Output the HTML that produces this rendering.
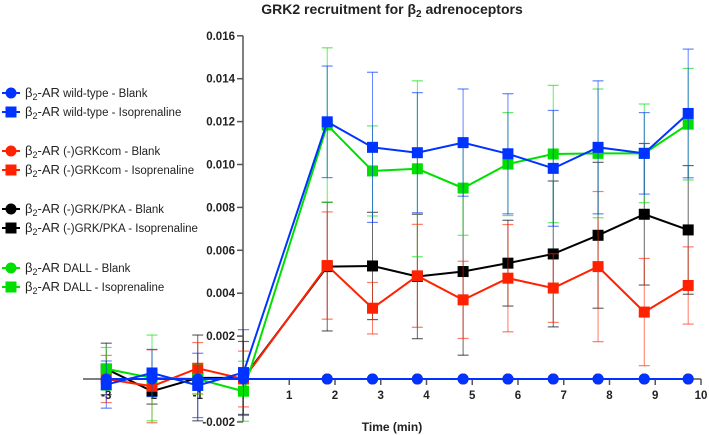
<!DOCTYPE html>
<html><head><meta charset="utf-8"><style>
body{margin:0;background:#fff;width:709px;height:435px;overflow:hidden}
svg{display:block;font-family:"Liberation Sans",sans-serif}
</style></head><body>
<svg id="chart" width="709" height="435"></svg>
<script>
const times=[-3,-2,-1,0,1.83,2.82,3.8,4.8,5.78,6.77,7.75,8.76,9.72];
const blueIso=[-0.00026,0.00028,-0.0003,0.0003,0.01199,0.0108,0.01055,0.01102,0.0105,0.00982,0.0108,0.01052,0.01238];
const blueErr=[0.0011,0.0011,0.0015,0.002,0.0026,0.0035,0.0028,0.0025,0.0028,0.0027,0.0031,0.0019,0.003];
const greenIso=[0.00047,0.00005,0,-0.00057,0.01184,0.0097,0.0098,0.0089,0.01002,0.01049,0.01052,0.01052,0.01188];
const greenErr=[0.001,0.002,0.0007,0.0014,0.0036,0.0021,0.0041,0.0022,0.0024,0.0032,0.003,0.0023,0.0026];
const blackIso=[0.00047,-0.00057,0.00005,0.00005,0.00524,0.00527,0.00478,0.00501,0.0054,0.00583,0.0067,0.00768,0.00695];
const blackErr=[0.0012,0.0006,0.002,0.0017,0.003,0.0025,0.0029,0.0039,0.002,0.0034,0.0034,0.0033,0.003];
const redIso=[0,-0.00034,0.0005,0,0.00529,0.0033,0.00481,0.00369,0.0047,0.00424,0.00524,0.00312,0.00436];
const redErr=[0.0011,0.0017,0.0012,0.0013,0.0025,0.0012,0.0024,0.0018,0.0025,0.0016,0.0035,0.0025,0.0018];
const blankVals=[0,0,0,0,0,0,0,0,0,0,0,0,0];
const yTicks=[0.016,0.014,0.012,0.010,0.008,0.006,0.004,0.002,-0.002];
const yTickLabels=["0.016","0.014","0.012","0.010","0.008","0.006","0.004","0.002","-0.002"];
const xTicks=[-3,-2,-1,1,2,3,4,5,6,7,8,9,10];
const xTickLabels=["-3","-2","-1","1","2","3","4","5","6","7","8","9","10"];

const NS="http://www.w3.org/2000/svg";
const svg=document.getElementById('chart');
const X=t=>243.5+t*45.75;
const Y=v=>379-v*21450;
function mk(tag,attrs,parent){const e=document.createElementNS(NS,tag);for(const k in attrs)e.setAttribute(k,attrs[k]);(parent||svg).appendChild(e);return e;}

let t=mk('text',{x:392,y:14,'text-anchor':'middle','font-size':14,'font-weight':'bold',fill:'#222'});


t.innerHTML='GRK2 recruitment for β<tspan font-size="10" dy="3">2</tspan><tspan dy="-3"> adrenoceptors</tspan>';

// axes
const ax=mk('g',{});


let yl=mk('line',{x1:243,y1:Y(0.016),x2:243,y2:Y(-0.002),stroke:'#555','stroke-width':1.5},ax);


let xl=mk('line',{x1:83,y1:379,x2:X(10),y2:379,stroke:'#555','stroke-width':1.5},ax);


yTicks.forEach((v,i)=>{
  mk('line',{x1:237,y1:Y(v),x2:243,y2:Y(v),stroke:'#555','stroke-width':1.5},ax);
  const l=mk('text',{x:235,y:Y(v)+4,'text-anchor':'end','font-size':11.5,'font-weight':'bold',fill:'#222'},ax);
  
  
  l.textContent=yTickLabels[i];
});
xTicks.forEach((v,i)=>{
  mk('line',{x1:X(v),y1:379,x2:X(v),y2:385,stroke:'#555','stroke-width':1.5},ax);
  const l=mk('text',{x:X(v),y:399,'text-anchor':'middle','font-size':11.5,'font-weight':'bold',fill:'#222'},ax);
  
  
  l.textContent=xTickLabels[i];
});
let xt=mk('text',{x:392,y:431,'text-anchor':'middle','font-size':12,'font-weight':'bold',fill:'#222'});


xt.textContent='Time (min)';

function series(vals,errs,color,shape,name){
  const g=mk('g',{});
  
  
  if(errs){vals.forEach((v,i)=>{
    const x=X(times[i]),e=errs[i];
    mk('line',{x1:x,y1:Y(v+e),x2:x,y2:Y(v-e),stroke:color,'stroke-width':1,opacity:0.6},g);
    mk('line',{x1:x-5.5,y1:Y(v+e),x2:x+5.5,y2:Y(v+e),stroke:color,'stroke-width':1.2,opacity:0.6},g);
    mk('line',{x1:x-5.5,y1:Y(v-e),x2:x+5.5,y2:Y(v-e),stroke:color,'stroke-width':1.2,opacity:0.6},g);
  });}
  mk('polyline',{points:vals.map((v,i)=>X(times[i])+','+Y(v)).join(' '),fill:'none',stroke:color,'stroke-width':2},g);
  vals.forEach((v,i)=>{
    let m;
    if(shape==='sq')m=mk('rect',{x:X(times[i])-5.5,y:Y(v)-5.5,width:11,height:11,fill:color},g);
    else m=mk('circle',{cx:X(times[i]),cy:Y(v),r:5.5,fill:color},g);
    
    
  });
}
series(blankVals,null,'#00e000','ci','dall-blank-series');
series(blankVals,null,'#000','ci','grkpka-blank-series');
series(blankVals,null,'#ff2200','ci','grkcom-blank-series');
series(blackIso,blackErr,'#000','sq','grkpka-isoprenaline-series');
series(redIso,redErr,'#ff2200','sq','grkcom-isoprenaline-series');
series(greenIso,greenErr,'#00e000','sq','dall-isoprenaline-series');
series(blueIso,blueErr,'#0033ff','sq','wildtype-isoprenaline-series');
series(blankVals,null,'#0033ff','ci','wildtype-blank-series');

// legend
const leg=[["wild-type - Blank",'#0033ff','ci',93],["wild-type - Isoprenaline",'#0033ff','sq',112],
["(-)GRKcom - Blank",'#ff2200','ci',151],["(-)GRKcom - Isoprenaline",'#ff2200','sq',170],
["(-)GRK/PKA - Blank",'#000','ci',209],["(-)GRK/PKA - Isoprenaline",'#000','sq',228],
["DALL - Blank",'#00e000','ci',268],["DALL - Isoprenaline",'#00e000','sq',287]];
const lg=mk('g',{});


leg.forEach(d=>{
  const g=mk('g',{},lg);
  
  
  mk('line',{x1:2,y1:d[3],x2:20,y2:d[3],stroke:d[1],'stroke-width':2},g);
  if(d[2]==='sq')mk('rect',{x:5.5,y:d[3]-5.5,width:11,height:11,fill:d[1]},g);
  else mk('circle',{cx:11,cy:d[3],r:5.5,fill:d[1]},g);
  const tx=mk('text',{x:25,y:d[3]+4,'font-size':11.5,fill:'#222'},g);
  tx.innerHTML='<tspan font-size="13">β</tspan><tspan font-size="9" dy="3">2</tspan><tspan font-size="13" dy="-3">-AR</tspan> '+d[0];
});
</script>
</body></html>
